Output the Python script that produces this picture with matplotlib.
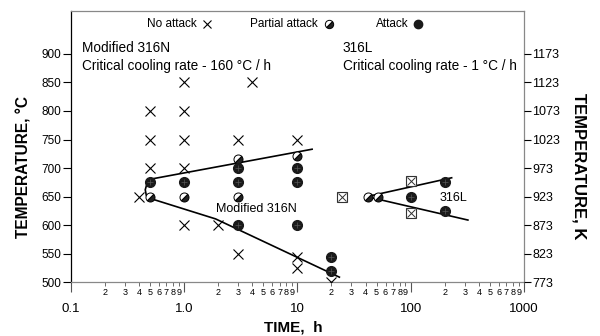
import numpy as np
import matplotlib
matplotlib.use('Agg')
import matplotlib.pyplot as plt
from matplotlib.markers import MarkerStyle
from matplotlib.transforms import Affine2D
from matplotlib.ticker import FixedLocator, FixedFormatter

plt.rcParams['font.family'] = ['Liberation Sans', 'DejaVu Sans']

# data: time (h), temperature (C)
no_attack_t = [0.5, 1, 0.5, 1, 0.5, 1, 1, 4, 0.4, 1, 2, 3, 3, 10, 10, 10, 20]
no_attack_T = [800, 800, 750, 750, 700, 700, 850, 850, 650, 600, 600, 550, 750, 750, 545, 525, 500]
partial_t = [0.5, 1, 3, 3, 10, 42, 52]
partial_T = [650, 650, 650, 715, 722, 650, 650]
attack_t = [0.5, 1, 3, 3, 10, 10, 3, 10, 20, 20, 100, 200, 200]
attack_T = [675, 675, 675, 700, 675, 700, 600, 600, 545, 520, 650, 675, 625]
box_t = [25, 100, 100]
box_T = [650, 678, 622]

# C-curves
n316_t = [13.5, 0.52, 0.47, 0.455, 0.465, 0.5, 1.9, 23.5]
n316_T = [733, 681, 672, 662, 652, 647, 611, 509]
l316_t = [230, 41, 320]
l316_T = [683, 650, 609]

yticks_C = [500, 550, 600, 650, 700, 750, 800, 850, 900]
major_x = [0.1, 1, 10, 100, 1000]
major_lbl = ['0.1', '1.0', '10', '100', '1000']

fig = plt.figure(figsize=(6, 3.36), dpi=100)
ax = fig.add_axes([0.1178, 0.1598, 0.7555, 0.8075])

partial_marker = MarkerStyle('o', fillstyle='bottom', transform=Affine2D().rotate_deg(45))

ax.plot(n316_t, n316_T, color='black', lw=1.2, zorder=2)
ax.plot(l316_t, l316_T, color='black', lw=1.2, zorder=2)

ax.plot(no_attack_t, no_attack_T, 'x', color='black', ms=7, mew=0.8, ls='none', zorder=3)
ax.plot(partial_t, partial_T, ls='none', marker=partial_marker, ms=6.5, mfc='#222222',
        mfcalt='white', mec='black', mew=0.7, zorder=3)
ax.plot(attack_t, attack_T, 'o', color='#1a1a1a', ms=7, ls='none', zorder=3)
ax.plot(attack_t, attack_T, '+', color='#555555', ms=4, mew=0.5, ls='none', zorder=4)
ax.plot(box_t, box_T, 's', mfc='white', mec='#333333', ms=7.5, mew=0.8, ls='none', zorder=3)
ax.plot(box_t, box_T, 'x', color='#333333', ms=5.5, mew=0.7, ls='none', zorder=4)

ax.set_xscale('log')
ax.set_xlim(0.1, 1000)
ax.set_ylim(500, 975)
ax.set_yticks(yticks_C)
ax.tick_params(axis='y', direction='out', length=6, width=0.8, labelsize=8.5, pad=1)

ax.xaxis.set_major_locator(FixedLocator(major_x))
ax.xaxis.set_major_formatter(FixedFormatter(major_lbl))
minor_x = [m * d for d in [0.1, 1, 10, 100] for m in range(2, 10)]
ax.xaxis.set_minor_locator(FixedLocator(minor_x))
ax.xaxis.set_minor_formatter(FixedFormatter([str(m) for d in range(4) for m in range(2, 10)]))
ax.tick_params(axis='x', which='major', direction='out', length=7, width=0.8,
               labelsize=9.5, pad=8, color='#555555')
ax.tick_params(axis='x', which='minor', direction='out', length=3, width=0.6,
               labelsize=6.5, pad=1, color='#555555')

for s in ['top', 'right', 'bottom']:
    ax.spines[s].set_color('#888888')
ax.spines['left'].set_color('black')
for s in ax.spines.values():
    s.set_linewidth(0.9)

ax2 = ax.twinx()
ax2.set_ylim(500 + 273, 975 + 273)
ax2.set_yticks([c + 273 for c in yticks_C])
ax2.tick_params(axis='y', direction='out', length=5, width=0.8, labelsize=9, pad=1)
for s in ax2.spines.values():
    s.set_visible(False)

# header legend
ax.text(0.168, 0.952, 'No attack', transform=ax.transAxes, fontsize=8.5, va='center')
ax.plot([0.300], [0.952], 'x', color='black', ms=6, mew=0.8, transform=ax.transAxes, clip_on=False)
ax.text(0.3955, 0.952, 'Partial attack', transform=ax.transAxes, fontsize=8.5, va='center')
ax.plot([0.5705], [0.952], marker=partial_marker, ms=6, mfc='#222222', mfcalt='white',
        mec='black', mew=0.7, transform=ax.transAxes, clip_on=False)
ax.text(0.6735, 0.952, 'Attack', transform=ax.transAxes, fontsize=8.5, va='center')
ax.plot([0.767], [0.952], 'o', color='#1a1a1a', ms=6, transform=ax.transAxes, clip_on=False)

ax.text(0.025, 0.8636, 'Modified 316N', transform=ax.transAxes, fontsize=9.8, va='center')
ax.text(0.025, 0.798, 'Critical cooling rate - 160 \u00b0C / h', transform=ax.transAxes,
        fontsize=9.8, va='center')
ax.text(0.6007, 0.8636, '316L', transform=ax.transAxes, fontsize=9.8, va='center')
ax.text(0.6007, 0.798, 'Critical cooling rate - 1 \u00b0C / h', transform=ax.transAxes,
        fontsize=9.8, va='center')

ax.text(1.9, 628, 'Modified 316N', fontsize=9, va='center', ha='left')
ax.text(237, 648, '316L', fontsize=9, va='center', ha='center')

fig.text(24 / 600, 1 - 167 / 336, 'TEMPERATURE, \u00b0C', rotation=90, fontsize=11.2,
         fontweight='bold', ha='center', va='center')
fig.text(579 / 600, 1 - 166 / 336, 'TEMPERATURE, K', rotation=270, fontsize=12,
         fontweight='bold', ha='center', va='center')
fig.text(293 / 600, 1 - 327 / 336, 'TIME,  h', fontsize=11, fontweight='bold',
         ha='center', va='center')

fig.savefig('out.png', dpi=100)
